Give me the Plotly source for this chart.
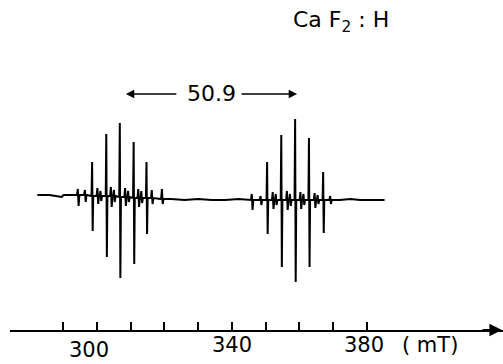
import plotly.graph_objects as go

# ---------------- data ----------------
# field axis ticks (mT)
tick_fields = [290, 300, 310, 320, 330, 340, 350, 360, 370, 380]
tick_labels = ["300", "340", "380", "( mT)"]

# strong hyperfine lines, group 1 (low field) and group 2 (high field)
line_field_g1 = [298.7, 302.9, 306.9, 311.0, 314.8]
line_top_g1 = [33, 61, 72, 53, 33]
line_bot_g1 = [-36, -62, -83, -69, -39]
line_base_g1 = [-1, -1, -2, -3, -3]

line_field_g2 = [350.5, 354.7, 358.8, 362.9, 367.1]
line_top_g2 = [33, 60, 76, 57, 23]
line_bot_g2 = [-39, -72, -87, -72, -38]
line_base_g2 = [-5, -5, -5, -5, -5]

# weak satellite / superhyperfine features
minor_field = [294.5, 296.6, 300.3, 301.2, 304.3, 305.2, 308.5, 309.4,
               312.4, 313.3, 316.4, 319.4,
               346.0, 348.6, 352.2, 353.1, 356.4, 357.3, 360.4, 361.3,
               364.6, 365.5, 369.2]
minor_top = [6, 5, 7, 4, 8, 5, 7, 4, 6, 4, 5, 6,
             1, -1, 3, 1, 4, 1, 3, 1, 2, 0, -1]
minor_bot = [-11, -7, -9, -6, -12, -7, -11, -7, -12, -8, -9, -9,
             -15, -10, -14, -10, -15, -11, -14, -10, -13, -9, -9]
minor_base = [0, 0, -1, -1, -1, -1, -2, -2, -3, -3, -3, -4,
              -5, -5, -5, -5, -5, -5, -5, -5, -5, -5, -5]

# baseline trace points
base_field = [282.4, 286.0, 289.6, 290.2, 292.5, 322.0, 326.0, 330.0, 334.0,
              338.0, 342.0, 372.0, 375.0, 378.0, 381.0, 385.2]
base_y = [0, 0, -2, 0, 0, -4, -5, -4, -5, -5, -4, -5, -4, -5, -5, -5]

splitting_label = "50.9"
arrow_tips = [308.6, 359.3]
arrow_tails = [324.0, 342.4]

# ---------------- build the trace ----------------
events = []
for f, y in zip(base_field, base_y):
    events.append((f, [(f, y)]))


def add_lines(fields, tops, bots, bases, w):
    for f, t, b, s in zip(fields, tops, bots, bases):
        pts = [(f - w, s), (f - w / 3, t), (f + w / 3, b), (f + w, s)]
        events.append((f, pts))


add_lines(line_field_g1, line_top_g1, line_bot_g1, line_base_g1, 0.25)
add_lines(line_field_g2, line_top_g2, line_bot_g2, line_base_g2, 0.25)
add_lines(minor_field, minor_top, minor_bot, minor_base, 0.35)
events.sort(key=lambda e: e[0])
xs, ys = [], []
for _, pts in events:
    for px, py in pts:
        xs.append(px)
        ys.append(py)

# ---------------- figure ----------------
W, H = 503, 364
ML, MR, MT, MB = 10, 0, 0, 34
PX_PER_MT = 3.378
X0 = 290 - (63 - ML) / PX_PER_MT
X1 = 290 + (W - 63) / PX_PER_MT


def px2paper_x(px):
    return (px - ML) / (W - ML - MR)


def py2paper_y(py):
    return (H - MB - py) / (H - MT - MB)


fig = go.Figure()
fig.add_trace(go.Scatter(x=xs, y=ys, mode="lines",
                         line=dict(color="black", width=2),
                         hoverinfo="skip", showlegend=False))

font = dict(family="DejaVu Sans", color="black")
ann = []
# title
ann.append(dict(text="Ca F<sub>2</sub> : H", xref="paper", yref="paper",
                x=px2paper_x(391), y=py2paper_y(22), xanchor="right",
                yanchor="middle", showarrow=False,
                font=dict(size=22, **font)))
# splitting label and arrows
ann.append(dict(text=splitting_label, xref="paper", yref="paper",
                x=px2paper_x(211), y=py2paper_y(94), xanchor="center",
                yanchor="middle", showarrow=False,
                font=dict(size=22, **font)))
for tip, tail in zip(arrow_tips, arrow_tails):
    ann.append(dict(text="", x=tip, y=195 - 94, xref="x", yref="y",
                    ax=tail, ay=195 - 94, axref="x", ayref="y",
                    showarrow=True, arrowhead=2, arrowsize=1.2,
                    arrowwidth=1.4, arrowcolor="black", standoff=0))
# axis arrow
ann.append(dict(text="", x=1.0, y=0.0, xref="paper", yref="paper",
                ax=-22, ay=0, showarrow=True, arrowhead=2, arrowsize=1.4,
                arrowwidth=1.8, arrowcolor="black", standoff=0))
# tick labels
label_px = [(89, 350, "center"), (232, 345, "center"),
            (342, 345, "left"), (400, 345, "left")]
for (lx, ly, anc), t in zip(label_px, tick_labels):
    ann.append(dict(text=t, xref="paper", yref="paper",
                    x=px2paper_x(lx), y=py2paper_y(ly), xanchor=anc,
                    yanchor="middle", showarrow=False,
                    font=dict(size=21, **font)))

fig.update_layout(
    width=W, height=H,
    margin=dict(l=ML, r=MR, t=MT, b=MB, pad=0),
    paper_bgcolor="white", plot_bgcolor="white",
    annotations=ann,
    xaxis=dict(range=[X0, X1], showgrid=False, zeroline=False,
               showline=True, linecolor="black", linewidth=1.6,
               tickmode="array", tickvals=tick_fields, ticks="inside",
               ticklen=8, tickwidth=1.5, tickcolor="black",
               showticklabels=False, fixedrange=True),
    yaxis=dict(range=[195 - (H - MB), 195], showgrid=False, zeroline=False,
               showline=False, showticklabels=False, ticks="",
               fixedrange=True),
)

fig.write_html("out.html")
